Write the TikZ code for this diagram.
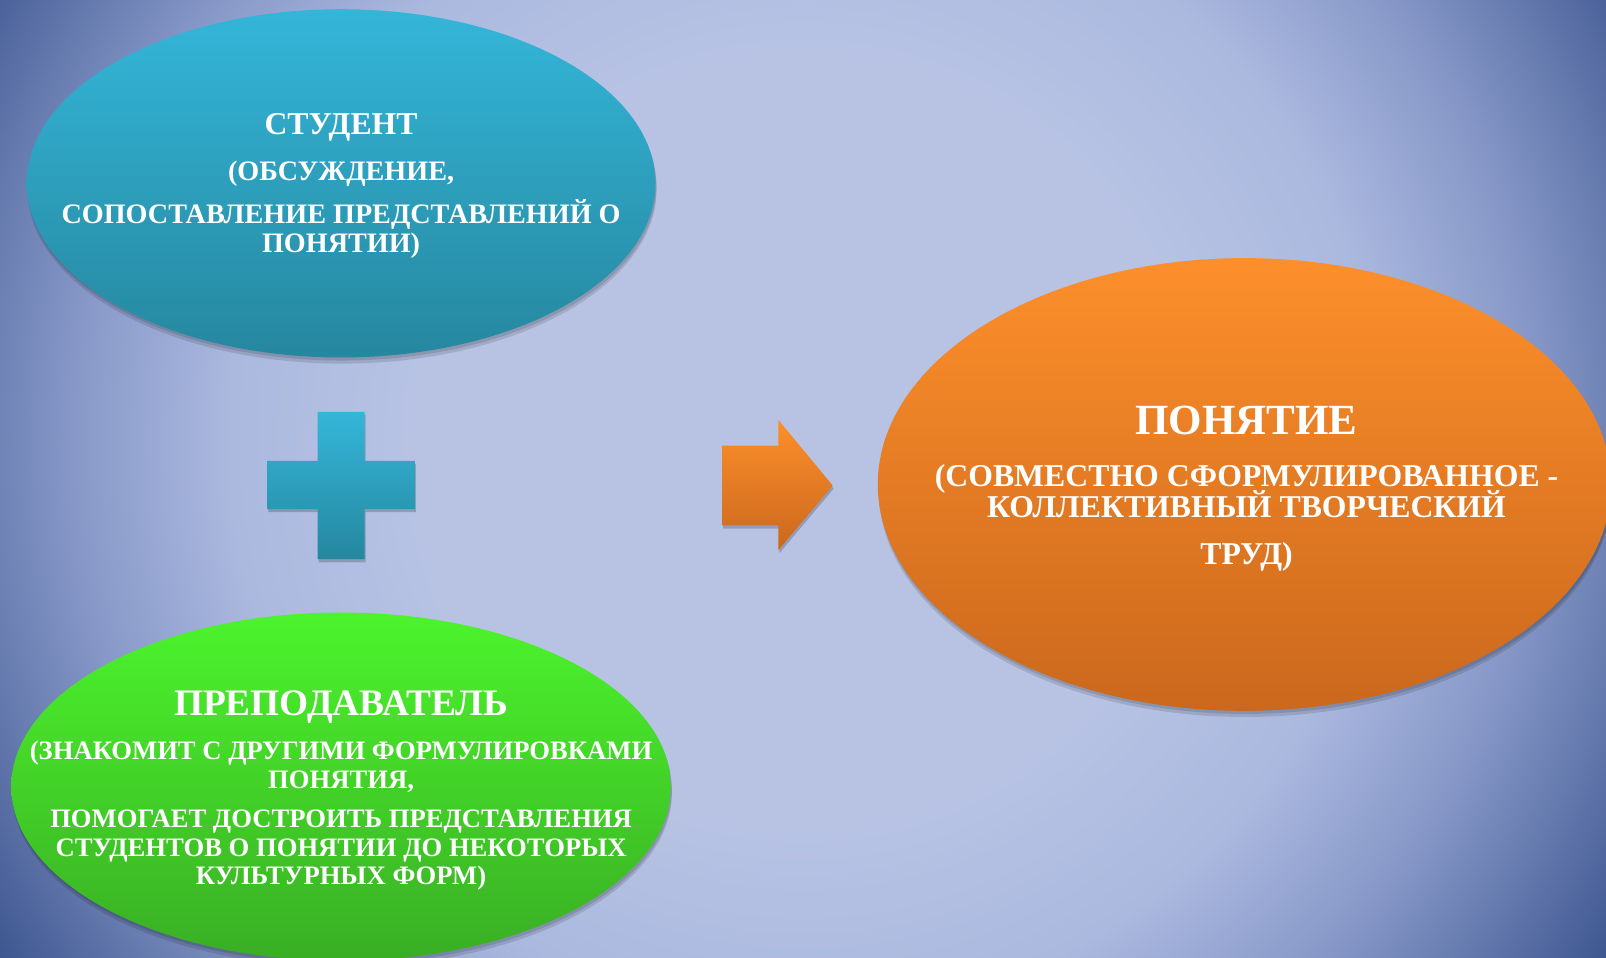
\documentclass[tikz,border=0pt]{standalone}
\usepackage{fontspec}
\setmainfont{Liberation Serif}
\usetikzlibrary{shapes.geometric,shadows}
\definecolor{bgA}{HTML}{B8C3E4}
\definecolor{bgB}{HTML}{ABB9DF}
\definecolor{bgC}{HTML}{8899C9}
\definecolor{bgD}{HTML}{6479AD}
\definecolor{bgE}{HTML}{3E5690}
\definecolor{cyanT}{HTML}{34B6D9}
\definecolor{cyanB}{HTML}{26879F}
\definecolor{orT}{HTML}{FD8F2B}
\definecolor{orB}{HTML}{CB681D}
\definecolor{grT}{HTML}{4CF42C}
\definecolor{grB}{HTML}{39AE24}
\pgfdeclareradialshading{bgshade}{\pgfpoint{0bp}{0bp}}{color(0bp)=(bgA); color(10bp)=(bgA); color(15bp)=(bgB); color(19bp)=(bgC); color(22bp)=(bgD); color(25bp)=(bgE); color(50bp)=(bgE)}
\tikzset{
  blob/.style={ellipse, inner sep=0pt, draw=none,
    drop shadow={shadow xshift=1pt, shadow yshift=-6pt, opacity=0.12, fill=black},
    drop shadow={shadow xshift=1pt, shadow yshift=-3pt, opacity=0.12, fill=black}},
  ttlA/.style={text=white, anchor=base, inner sep=0pt, font=\bfseries\fontsize{31}{31}\selectfont},
  subA/.style={text=white, anchor=base, inner sep=0pt, font=\bfseries\fontsize{27.5}{27.5}\selectfont},
  ttlB/.style={text=white, anchor=base, inner sep=0pt, font=\bfseries\fontsize{42}{42}\selectfont},
  subB/.style={text=white, anchor=base, inner sep=0pt, font=\bfseries\fontsize{31}{31}\selectfont},
  ttlC/.style={text=white, anchor=base, inner sep=0pt, font=\bfseries\fontsize{36.5}{36.5}\selectfont},
  subC/.style={text=white, anchor=base, inner sep=0pt, font=\bfseries\fontsize{26}{26}\selectfont},
}
\begin{document}
\begin{tikzpicture}[x=1pt,y=-1pt]
\useasboundingbox (0,0) rectangle (1568,935);
\begin{scope}
\clip (0,0) rectangle (1568,935);
\shade[shading=bgshade] (-149,-503) rectangle (1717,1363);
\end{scope}

% ellipses
\node[blob, minimum width=614pt, minimum height=340pt, top color=cyanT, bottom color=cyanB] (student) at (333,179) {};
\node[blob, minimum width=716pt, minimum height=442pt, top color=orT, bottom color=orB] (concept) at (1215,473) {};
\node[blob, minimum width=644pt, minimum height=340pt, top color=grT, bottom color=grB] (teacher) at (333,768) {};

% plus sign
\path[top color=cyanT, bottom color=cyanB, drop shadow={shadow xshift=1pt, shadow yshift=-3pt, opacity=0.2, fill=black}]
  (310,402) -- (356,402) -- (356,450) -- (405,450) -- (405,497) -- (356,497) -- (356,546)
  -- (310,546) -- (310,497) -- (261,497) -- (261,450) -- (310,450) -- cycle;

% arrow
\path[top color=orT, bottom color=orB, drop shadow={shadow xshift=1pt, shadow yshift=-3pt, opacity=0.2, fill=black}]
  (705,435) -- (760,435) -- (760,410) -- (813,474) -- (760,537) -- (760,513) -- (705,513) -- cycle;

% student text
\node[ttlA] (s1) at (333,131.5) {СТУДЕНТ};
\node[subA] (s2) at (333,176) {(ОБСУЖДЕНИЕ,};
\node[subA] (s3) at (333,218) {СОПОСТАВЛЕНИЕ ПРЕДСТАВЛЕНИЙ О};
\node[subA] (s4) at (333,247) {ПОНЯТИИ)};

% concept text
\node[ttlB] (c1) at (1217,424) {ПОНЯТИЕ};
\node[subB] (c2) at (1217,475) {(СОВМЕСТНО СФОРМУЛИРОВАННОЕ -};
\node[subB] (c3) at (1217,505) {КОЛЛЕКТИВНЫЙ ТВОРЧЕСКИЙ};
\node[subB] (c4) at (1217,551) {ТРУД)};

% teacher text
\node[ttlC] (t1) at (333,699) {ПРЕПОДАВАТЕЛЬ};
\node[subC] (t2) at (333,742) {(ЗНАКОМИТ С ДРУГИМИ ФОРМУЛИРОВКАМИ};
\node[subC] (t3) at (333,770) {ПОНЯТИЯ,};
\node[subC] (t4) at (333,808) {ПОМОГАЕТ ДОСТРОИТЬ ПРЕДСТАВЛЕНИЯ};
\node[subC] (t5) at (333,836) {СТУДЕНТОВ О ПОНЯТИИ ДО НЕКОТОРЫХ};
\node[subC] (t6) at (333,864) {КУЛЬТУРНЫХ ФОРМ)};
\end{tikzpicture}
\end{document}
